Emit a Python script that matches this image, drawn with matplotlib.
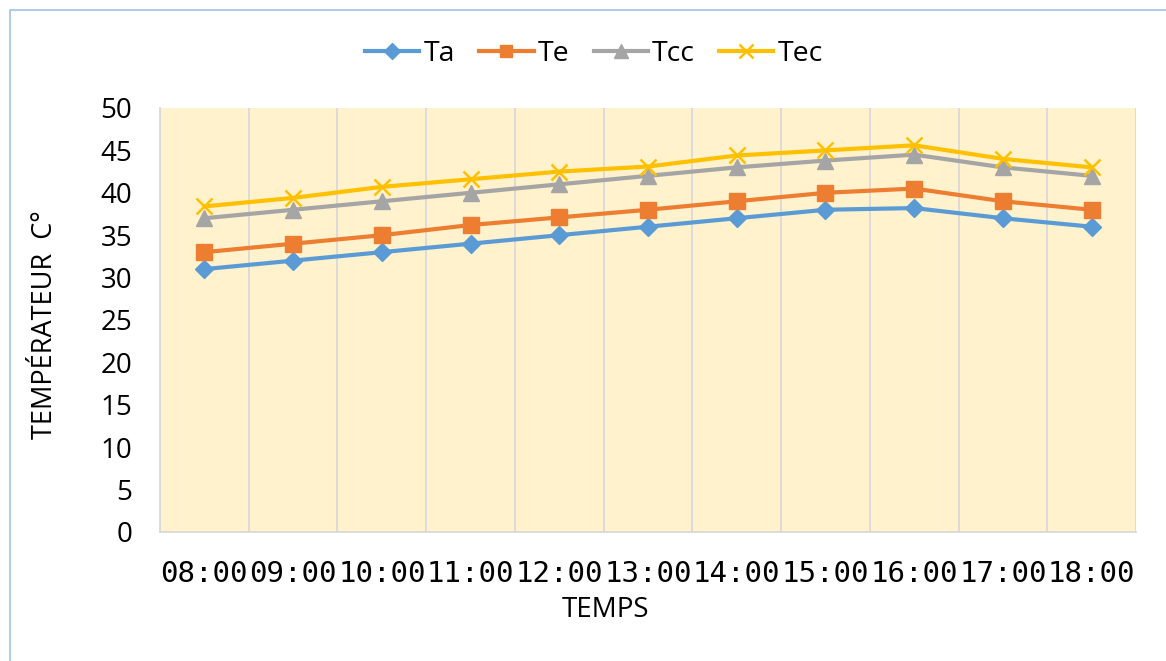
import matplotlib
matplotlib.use("Agg")
import matplotlib.pyplot as plt
from matplotlib.patches import Rectangle
import numpy as np

# chart data
hours = ["08:00", "09:00", "10:00", "11:00", "12:00", "13:00",
         "14:00", "15:00", "16:00", "17:00", "18:00"]
ta = [31, 32, 33, 34, 35, 36, 37, 38, 38.2, 37, 36]
te = [33, 34, 35, 36.2, 37.1, 38, 39, 40, 40.5, 39, 38]
tcc = [37, 38, 39, 40, 41, 42, 43, 43.8, 44.5, 43, 42]
tec = [38.4, 39.4, 40.7, 41.6, 42.5, 43.1, 44.4, 45, 45.6, 44, 43]

W, H = 1166, 661
fig = plt.figure(figsize=(W / 100, H / 100), dpi=100)
fig.patch.set_facecolor("white")

# outer chart border (light blue)
fig.patches.append(Rectangle((10 / W, -0.05), 1.2, 1 - 10 / H + 0.05,
                             transform=fig.transFigure, fill=False,
                             edgecolor="#9DC3E6", lw=1.2))

ax = fig.add_axes([160 / W, 1 - 532 / H, 976 / W, 424 / H])
ax.set_facecolor("#FFF2CC")

x = np.arange(len(hours))
grid_c = "#D9D9D9"
for b in np.arange(-0.5, len(hours), 1.0):
    ax.axvline(b, color=grid_c, lw=1.3, zorder=1)

lw = 3.0
ax.plot(x, ta, color="#5B9BD5", lw=lw, marker="D", ms=9, label="Ta", zorder=3)
ax.plot(x, te, color="#ED7D31", lw=lw, marker="s", ms=11, label="Te", zorder=3)
ax.plot(x, tcc, color="#A5A5A5", lw=lw, marker="^", ms=12, label="Tcc", zorder=3)
ax.plot(x, tec, color="#FFC000", lw=lw, marker="x", ms=12, mew=1.8,
        label="Tec", zorder=3)

ax.set_xlim(-0.5, len(hours) - 0.5)
ax.set_ylim(0, 50)
ax.set_yticks(np.arange(0, 51, 5))
ax.set_xticks(x)
ax.set_xticklabels(hours, fontfamily="DejaVu Sans Mono", fontsize=21)
for lab in ax.get_yticklabels():
    lab.set_fontfamily("Open Sans")
    lab.set_fontsize(20)
ax.tick_params(axis="both", length=0, colors="black")
ax.tick_params(axis="y", pad=20)
ax.tick_params(axis="x", pad=20)

for s in ["top", "right"]:
    ax.spines[s].set_visible(False)
for s in ["left", "bottom"]:
    ax.spines[s].set_color(grid_c)
    ax.spines[s].set_linewidth(1.3)

fig.text(45 / W, 1 - 325 / H, "TEMPÉRATEUR  C°", rotation=90,
         ha="center", va="center", fontsize=19.5, fontfamily="Open Sans")
fig.text(605 / W, 1 - 610 / H, "TEMPS", ha="center", va="center",
         fontsize=20, fontfamily="Open Sans")

fig.legend(loc="center", bbox_to_anchor=(594 / W, 1 - 54 / H), ncol=4,
           frameon=False, prop={"family": "Open Sans", "size": 20.5},
           handlelength=1.9, handletextpad=0.15, columnspacing=0.85,
           markerscale=0.85)

fig.savefig("out.png", dpi=100)
